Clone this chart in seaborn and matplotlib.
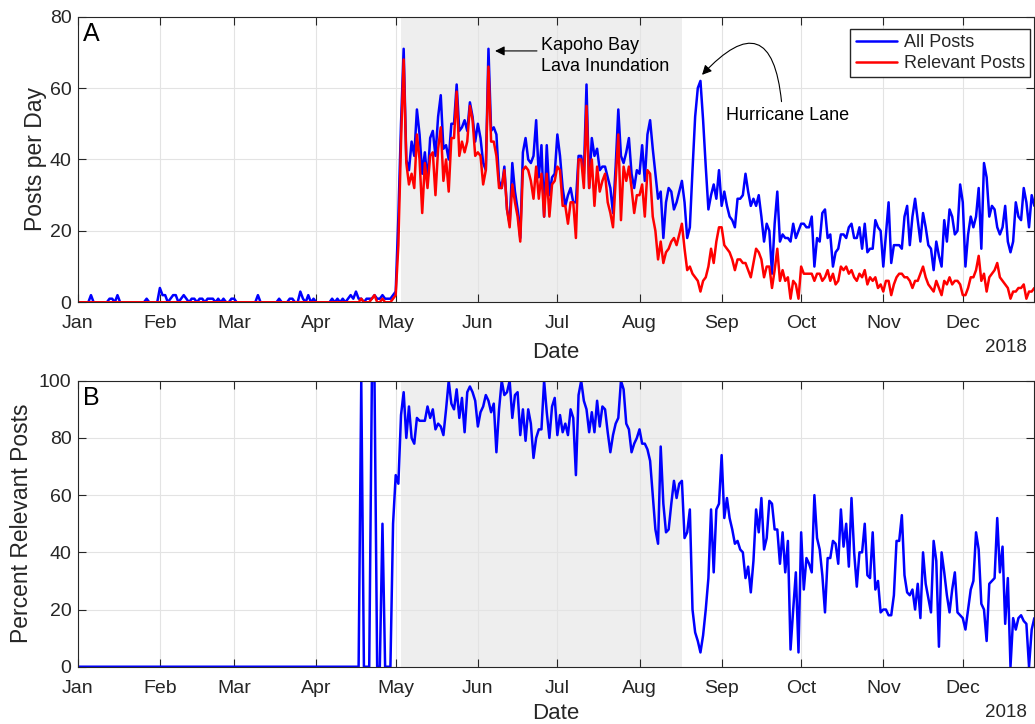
"""
Daily social media posts about the 2018 Kilauea eruption.
"""

import matplotlib
matplotlib.use("Agg")
import matplotlib.pyplot as plt
import matplotlib.dates as mdates
import seaborn as sns
import pandas as pd

# daily counts, Jan 1 - Dec 28 2018 (one row per month)
all_posts = (
    [0, 0, 0, 0, 0, 2, 0, 0, 0, 0, 0, 0, 1, 1, 0, 2, 0, 0, 0, 0, 0, 0, 0, 0, 0, 0, 1, 0, 0, 0, 0]
    + [4, 2, 2, 0, 1, 2, 2, 0, 1, 2, 1, 0, 1, 1, 0, 1, 1, 0, 1, 1, 1, 0, 1, 0, 1, 0, 0, 1]
    + [1, 0, 0, 0, 0, 0, 0, 0, 0, 2, 0, 0, 0, 0, 0, 0, 0, 1, 0, 0, 0, 1, 1, 0, 0, 3, 1, 0, 2, 0, 1]
    + [0, 0, 0, 0, 0, 0, 1, 0, 1, 0, 1, 0, 1, 2, 1, 3, 1, 1, 0, 1, 1, 1, 2, 1, 1, 2, 1, 1, 1, 2]
    + [3, 24, 50, 71, 40, 37, 45, 41, 54, 47, 36, 42, 34, 46, 48, 41, 52, 58, 43, 44, 40, 50, 50, 61, 48, 49, 51, 48, 56, 52, 45]
    + [50, 46, 39, 37, 71, 48, 49, 47, 34, 32, 38, 26, 22, 39, 31, 26, 18, 42, 46, 40, 39, 41, 51, 35, 44, 24, 44, 30, 35, 36]
    + [47, 41, 32, 27, 30, 32, 28, 28, 41, 41, 36, 61, 32, 46, 41, 43, 37, 38, 38, 35, 32, 25, 38, 54, 41, 39, 42, 46, 36, 32, 37]
    + [36, 44, 34, 47, 51, 43, 36, 29, 31, 18, 28, 32, 31, 26, 28, 31, 34, 28, 18, 21, 37, 52, 60, 62, 51, 38, 26, 30, 33, 29, 37]
    + [27, 31, 27, 24, 23, 21, 29, 29, 30, 36, 31, 27, 29, 27, 30, 24, 17, 22, 20, 8, 22, 31, 17, 19, 18, 18, 17, 22, 18, 20]
    + [22, 22, 21, 21, 24, 10, 18, 17, 25, 26, 18, 19, 10, 14, 15, 19, 19, 18, 21, 22, 18, 18, 21, 15, 22, 14, 15, 15, 23, 21, 20]
    + [10, 19, 28, 11, 16, 16, 16, 15, 24, 27, 16, 24, 29, 23, 17, 25, 21, 16, 15, 9, 17, 13, 10, 23, 17, 26, 24, 19, 20, 33]
    + [28, 10, 19, 24, 21, 24, 32, 15, 39, 35, 24, 27, 26, 21, 19, 21, 27, 17, 14, 17, 28, 24, 23, 32, 28, 21, 30, 27]
)

relevant_posts = (
    [0] * 31
    + [0] * 28
    + [0] * 31
    + [0] * 17 + [1, 0, 0, 0, 1, 2, 0, 0, 1, 0, 0, 0, 1]
    + [2, 16, 45, 68, 39, 33, 36, 32, 47, 40, 25, 39, 32, 41, 42, 30, 43, 49, 34, 40, 31, 46, 46, 59, 41, 45, 42, 45, 55, 51, 41]
    + [42, 41, 33, 37, 66, 45, 45, 41, 32, 32, 37, 26, 21, 33, 28, 24, 17, 37, 38, 37, 34, 29, 38, 29, 36, 24, 36, 24, 33, 34]
    + [38, 37, 27, 27, 22, 28, 28, 18, 40, 40, 32, 55, 32, 40, 27, 38, 31, 34, 36, 28, 25, 21, 34, 47, 23, 38, 34, 38, 32, 25, 30]
    + [30, 33, 24, 37, 36, 24, 20, 12, 17, 11, 14, 15, 17, 18, 16, 19, 22, 15, 9, 10, 8, 7, 6, 3, 6, 7, 10, 15, 11, 17, 21]
    + [21, 16, 15, 14, 12, 9, 12, 12, 11, 11, 9, 7, 11, 15, 14, 12, 7, 10, 10, 4, 9, 15, 6, 9, 6, 7, 1, 6, 5, 1]
    + [10, 8, 8, 8, 8, 6, 8, 8, 6, 7, 9, 6, 8, 5, 6, 10, 9, 10, 8, 9, 7, 6, 8, 7, 9, 5, 7, 6, 7, 4, 5]
    + [3, 6, 6, 2, 5, 7, 8, 8, 7, 7, 6, 4, 6, 6, 8, 10, 7, 5, 4, 3, 6, 4, 2, 6, 5, 7, 5, 6, 6, 5]
    + [2, 2, 4, 7, 7, 9, 13, 6, 8, 3, 7, 8, 9, 11, 7, 6, 5, 4, 1, 3, 3, 4, 4, 5, 1, 3, 3, 4]
)

percent_relevant = (
    [0] * 31
    + [0] * 28
    + [0] * 31
    + [0] * 17 + [100, 0, 0, 0, 100, 100, 0, 0, 50, 0, 0, 0, 50]
    + [67, 64, 88, 96, 80, 91, 80, 78, 87, 86, 86, 86, 91, 87, 90, 83, 85, 84, 81, 90, 100, 92, 90, 97, 87, 94, 82, 96, 98, 96, 93]
    + [84, 89, 91, 95, 93, 89, 92, 75, 90, 100, 95, 96, 100, 87, 95, 96, 81, 90, 79, 90, 85, 73, 80, 83, 83, 100, 89, 80, 91, 94]
    + [81, 88, 82, 85, 81, 90, 87, 67, 95, 100, 93, 90, 82, 89, 82, 93, 84, 91, 90, 82, 75, 81, 85, 87, 100, 97, 85, 83, 75, 78, 80]
    + [83, 78, 78, 76, 72, 60, 48, 43, 77, 57, 47, 48, 57, 65, 59, 64, 65, 45, 47, 55, 20, 12, 9, 5, 11, 20, 31, 55, 33, 55, 57]
    + [74, 52, 59, 52, 48, 43, 44, 41, 40, 31, 35, 26, 37, 55, 47, 59, 41, 45, 58, 57, 48, 48, 36, 47, 33, 44, 6, 20, 33, 5]
    + [47, 27, 38, 36, 33, 60, 45, 41, 32, 19, 38, 38, 44, 43, 36, 55, 42, 50, 35, 59, 40, 28, 40, 40, 50, 32, 31, 47, 27, 30, 19]
    + [20, 20, 18, 18, 25, 44, 44, 53, 32, 26, 25, 27, 20, 29, 17, 40, 29, 24, 19, 44, 37, 7, 40, 33, 25, 19, 27, 33, 19, 18]
    + [17, 13, 20, 27, 30, 47, 41, 22, 20, 9, 29, 30, 31, 52, 33, 42, 15, 31, 0, 17, 13, 17, 18, 16, 15, 0, 13, 17]
)

start = pd.Timestamp("2018-01-01")
dates_all = pd.date_range(start, periods=len(all_posts), freq="D")
dates_rel = pd.date_range(start, periods=len(relevant_posts), freq="D")
dates_pct = pd.date_range(start, periods=len(percent_relevant), freq="D")

shade_start = pd.Timestamp("2018-05-03")
shade_end = pd.Timestamp("2018-08-17")

DARK = "#262626"


def day(n):
    """date number n days after Jan 1"""
    return mdates.date2num(start + pd.Timedelta(days=n))


sns.set_theme(style="ticks")
plt.rcParams["font.family"] = ["Liberation Sans", "DejaVu Sans"]
plt.rcParams["axes.linewidth"] = 0.8

fig = plt.figure(figsize=(10.35, 7.24), dpi=100)
ax_a = fig.add_axes([0.0751, 0.5825, 0.924, 0.3945])
ax_b = fig.add_axes([0.0751, 0.0791, 0.924, 0.395])

# Panel A
ax_a.axvspan(shade_start, shade_end, color="#eeeeee", lw=0, zorder=0.3)
sns.lineplot(x=dates_all, y=all_posts, color="#0000ff", lw=1.8, label="All Posts", ax=ax_a)
sns.lineplot(x=dates_rel, y=relevant_posts, color="#ff0000", lw=1.8, label="Relevant Posts", ax=ax_a)
ax_a.set_ylim(0, 80)
ax_a.set_yticks([0, 20, 40, 60, 80])
ax_a.set_ylabel("Posts per Day", fontsize=16.5, color=DARK)
ax_a.legend(loc="upper right", bbox_to_anchor=(0.996, 0.957), borderaxespad=0,
            fontsize=13, frameon=True, fancybox=False, framealpha=1,
            edgecolor=DARK, handlelength=2.3, handletextpad=0.35,
            labelspacing=0.2, borderpad=0.3)

ax_a.annotate("", xy=(day(157.5), 70.4), xytext=(day(173.3), 70.4),
              arrowprops=dict(arrowstyle="-|>", color="black", lw=0.8,
                              shrinkA=0, shrinkB=0, mutation_scale=14))
ax_a.text(day(174.8), 69, "Kapoho Bay\nLava Inundation", fontsize=13,
          ha="left", va="center", linespacing=1.3, color="black")
ax_a.annotate("", xy=(day(235.6), 63.7), xytext=(day(265.6), 56.2),
              arrowprops=dict(arrowstyle="-|>", color="black", lw=0.8,
                              shrinkA=0, shrinkB=0, mutation_scale=14,
                              connectionstyle="arc3,rad=1.1"))
ax_a.text(day(244.8), 52.4, "Hurricane Lane", fontsize=13, ha="left",
          va="center", color="black")

# Panel B
ax_b.axvspan(shade_start, shade_end, color="#eeeeee", lw=0, zorder=0.3)
sns.lineplot(x=dates_pct, y=percent_relevant, color="#0000ff", lw=1.8, ax=ax_b)
ax_b.set_ylim(0, 100)
ax_b.set_yticks([0, 20, 40, 60, 80, 100])
ax_b.set_ylabel("Percent Relevant Posts", fontsize=16.5, color=DARK)

for ax, letter, ylab_x, xlab_y in [(ax_a, "A", -0.032, -0.14),
                                   (ax_b, "B", -0.0467, -0.127)]:
    ax.set_xlim(start, start + pd.Timedelta(days=360.9))
    ax.xaxis.set_major_locator(mdates.MonthLocator())
    ax.xaxis.set_major_formatter(mdates.DateFormatter("%b"))
    ax.set_xlabel("Date", fontsize=16, color=DARK)
    ax.xaxis.set_label_coords(0.5, xlab_y)
    ax.yaxis.set_label_coords(ylab_x, 0.5)
    ax.grid(True, color="#e3e3e3", lw=0.8)
    ax.set_axisbelow(True)
    ax.tick_params(direction="in", top=True, right=True, length=6, width=0.8,
                   labelsize=14, colors=DARK)
    ax.tick_params(axis="x", pad=9.5)
    ax.tick_params(axis="y", pad=4.5)
    for side in ax.spines.values():
        side.set_color(DARK)
        side.set_visible(True)
    ax.text(0.0055, 0.94, letter, transform=ax.transAxes, fontsize=18,
            ha="left", va="center", color="black")
    ax.text(0.993, -0.16, "2018", transform=ax.transAxes, fontsize=13.5,
            ha="right", va="center", color=DARK)

fig.savefig("out.png", dpi=100)
